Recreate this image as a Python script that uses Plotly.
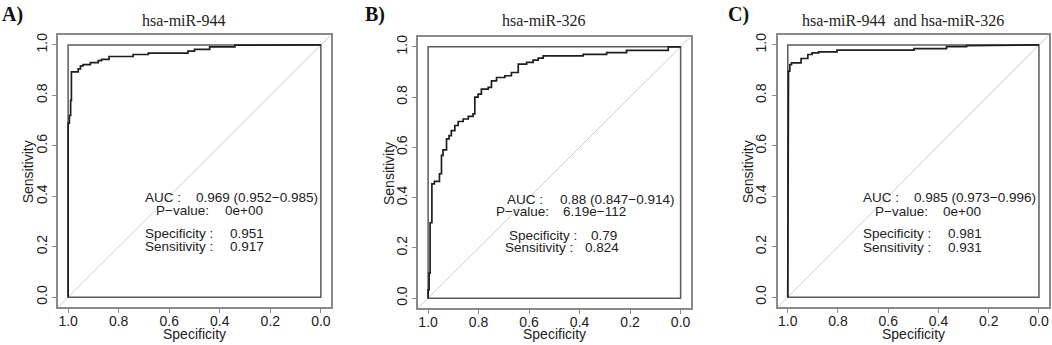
import plotly.graph_objects as go

W, H = 1052, 345

# ---------------- data ----------------
spec_944 = [1.0, 1.0, 0.995, 0.995, 0.99, 0.99, 0.987, 0.987, 0.96, 0.96, 0.951, 0.951,
            0.941, 0.941, 0.912, 0.912, 0.881, 0.881, 0.868, 0.868, 0.838, 0.838,
            0.743, 0.743, 0.683, 0.683, 0.526, 0.526, 0.50, 0.50, 0.44, 0.44,
            0.34, 0.34, 0.0]
sens_944 = [0.0, 0.69, 0.69, 0.72, 0.72, 0.78, 0.78, 0.893, 0.893, 0.905, 0.905, 0.917,
            0.917, 0.922, 0.922, 0.93, 0.93, 0.938, 0.938, 0.943, 0.943, 0.954,
            0.954, 0.962, 0.962, 0.967, 0.967, 0.975, 0.975, 0.982, 0.982, 0.992,
            0.992, 0.999, 1.0]

spec_326 = [1.0, 1.0, 0.996, 0.996, 0.992, 0.992, 0.985, 0.985, 0.975, 0.975, 0.955, 0.955,
            0.947, 0.947, 0.941, 0.941, 0.927, 0.927, 0.917, 0.917, 0.908, 0.908,
            0.894, 0.894, 0.881, 0.881, 0.861, 0.861, 0.841, 0.841, 0.822, 0.822,
            0.815, 0.815, 0.802, 0.802, 0.789, 0.789, 0.762, 0.762, 0.749, 0.749,
            0.729, 0.729, 0.696, 0.696, 0.67, 0.67, 0.643, 0.643, 0.61, 0.61,
            0.584, 0.584, 0.564, 0.564, 0.544, 0.544, 0.386, 0.386, 0.293, 0.293,
            0.214, 0.214, 0.049, 0.049, 0.0]
sens_326 = [0.0, 0.033, 0.033, 0.10, 0.10, 0.30, 0.30, 0.455, 0.455, 0.465, 0.465, 0.495,
            0.495, 0.568, 0.568, 0.59, 0.59, 0.634, 0.634, 0.647, 0.647, 0.667,
            0.667, 0.687, 0.687, 0.703, 0.703, 0.713, 0.713, 0.723, 0.723, 0.733,
            0.733, 0.80, 0.80, 0.812, 0.812, 0.832, 0.832, 0.839, 0.839, 0.865,
            0.865, 0.878, 0.878, 0.885, 0.885, 0.898, 0.898, 0.931, 0.931, 0.938,
            0.938, 0.947, 0.947, 0.955, 0.955, 0.964, 0.964, 0.97, 0.97, 0.977,
            0.977, 0.986, 0.986, 1.0, 1.0]

spec_comb = [1.0, 1.0, 0.997, 0.997, 0.992, 0.992, 0.985, 0.985, 0.947, 0.947, 0.92, 0.92,
             0.903, 0.903, 0.877, 0.877, 0.804, 0.804, 0.497, 0.497, 0.368, 0.368,
             0.288, 0.288, 0.0]
sens_comb = [0.0, 0.757, 0.757, 0.896, 0.896, 0.922, 0.922, 0.929, 0.929, 0.946, 0.946, 0.962,
             0.962, 0.968, 0.968, 0.972, 0.972, 0.979, 0.979, 0.985, 0.985, 0.993,
             0.993, 0.997, 1.0]

tick_vals = [0.0, 0.2, 0.4, 0.6, 0.8, 1.0]
tick_text = ["0.0", "0.2", "0.4", "0.6", "0.8", "1.0"]

panel_letters = ["A)", "B)", "C)"]
panel_titles = ["hsa-miR-944", "hsa-miR-326", "hsa-miR-944\u00a0\u00a0and hsa-miR-326"]
auc_text = ["0.969 (0.952\u22120.985)", "0.88 (0.847\u22120.914)", "0.985 (0.973\u22120.996)"]
pval_text = ["0e+00", "6.19e\u2212112", "0e+00"]
best_spec = ["0.951", "0.79", "0.981"]
best_sens = ["0.917", "0.824", "0.931"]

specs = [spec_944, spec_326, spec_comb]
senss = [sens_944, sens_326, sens_comb]

# ---------------- layout geometry (pixels) ----------------
# outer plot box: left, right, top, bottom
boxes = [(58, 331, 33, 307), (418, 690.7, 35, 308), (777.7, 1049, 33, 307)]
inner_centers = [194.7, 554.5, 913.3]

# text positions: (x_label, x_value, y) for each of 4 lines
txt_pos = [
    [(142.7, 194.3, 196.5), (154.0, 222.7, 210.0), (142.7, 227.7, 232.7), (142.7, 227.7, 246.0)],
    [(505.0, 557.7, 198.3), (494.0, 560.5, 210.5), (507.3, 589.0, 235.0), (503.3, 583.3, 247.0)],
    [(861.0, 912.3, 196.7), (872.7, 940.7, 210.7), (861.0, 946.0, 233.3), (861.0, 946.0, 246.7)],
]
labels_left = ["AUC :", "P\u2212value:", "Specificity :", "Sensitivity :"]
title_x = [184.3, 543.8, 903.3]
letter_x = [12.5, 375.0, 738.0]
ylab_x = [28.3, 388.5, 748.3]


def px(x):
    return x / W


def py(y):
    return 1 - y / H


SANS = "Liberation Sans, Arial, sans-serif"
SERIF = "Liberation Serif, Times New Roman, serif"
TXT = "#222222"
BOXC = "#8a8a8a"

fig = go.Figure()
annotations = []
shapes = []

for i in range(3):
    n = "" if i == 0 else str(i + 1)
    xa, ya = "x" + n, "y" + n
    l, r, t, b = boxes[i]
    fig.add_trace(go.Scatter(x=specs[i], y=senss[i], mode="lines",
                             line=dict(color="#1e1e1e", width=1.7),
                             xaxis=xa, yaxis=ya, showlegend=False, hoverinfo="skip"))
    axcommon = dict(showgrid=False, zeroline=False, showline=True, mirror=True,
                    linecolor=BOXC, linewidth=1.5, ticks="outside", ticklen=4,
                    tickcolor=BOXC, tickwidth=1, tickvals=tick_vals, ticktext=tick_text,
                    tickfont=dict(family=SANS, size=14, color=TXT), fixedrange=True)
    fig.update_layout(**{
        "xaxis" + n: dict(domain=[px(l), px(r)], range=[1.04, -0.04], anchor=ya,
                          ticklabelstandoff=-4, **axcommon),
        "yaxis" + n: dict(domain=[py(b), py(t)], range=[-0.04, 1.04], anchor=xa,
                          tickangle=-90, **axcommon),
    })
    # diagonal reference and inner square
    shapes.append(dict(type="line", xref=xa, yref=ya, x0=1.04, y0=-0.04, x1=-0.04, y1=1.04,
                       line=dict(color="#cccccc", width=1), layer="below"))
    shapes.append(dict(type="rect", xref=xa, yref=ya, x0=0, y0=0, x1=1, y1=1,
                       line=dict(color="#5a5a5a", width=1.5), layer="below"))

    # panel letter and title
    annotations.append(dict(text="<b>%s</b>" % panel_letters[i], x=px(letter_x[i]), y=py(13.0),
                            xref="paper", yref="paper", showarrow=False, xanchor="center",
                            yanchor="middle", font=dict(family=SERIF, size=20, color="#111111")))
    annotations.append(dict(text=panel_titles[i], x=px(title_x[i]), y=py(18.3),
                            xref="paper", yref="paper", showarrow=False, xanchor="center",
                            yanchor="middle", font=dict(family=SERIF, size=16, color=TXT)))
    # axis titles
    annotations.append(dict(text="Specificity", x=px(inner_centers[i]), y=py(334.0),
                            xref="paper", yref="paper", showarrow=False, xanchor="center",
                            yanchor="middle", font=dict(family=SANS, size=14, color=TXT)))
    annotations.append(dict(text="Sensitivity", x=px(ylab_x[i]), y=py((t + b) / 2 + 1),
                            xref="paper", yref="paper", showarrow=False, xanchor="center",
                            yanchor="middle", textangle=-90,
                            font=dict(family=SANS, size=14, color=TXT)))
    # statistics text
    values = [auc_text[i], pval_text[i], best_spec[i], best_sens[i]]
    for k in range(4):
        xl, xv, yy = txt_pos[i][k]
        annotations.append(dict(text=labels_left[k], x=px(xl), y=py(yy), xref="paper",
                                yref="paper", showarrow=False, xanchor="left", yanchor="middle",
                                font=dict(family=SANS, size=13.5, color=TXT)))
        annotations.append(dict(text=values[k], x=px(xv), y=py(yy), xref="paper",
                                yref="paper", showarrow=False, xanchor="left", yanchor="middle",
                                font=dict(family=SANS, size=13.5, color=TXT)))

fig.update_layout(width=W, height=H, margin=dict(l=0, r=0, t=0, b=0),
                  paper_bgcolor="white", plot_bgcolor="white",
                  annotations=annotations, shapes=shapes, showlegend=False)

fig.write_html("out.html", config={"displayModeBar": False},
               post_script="document.body.style.margin='0';document.body.style.overflow='hidden';")
